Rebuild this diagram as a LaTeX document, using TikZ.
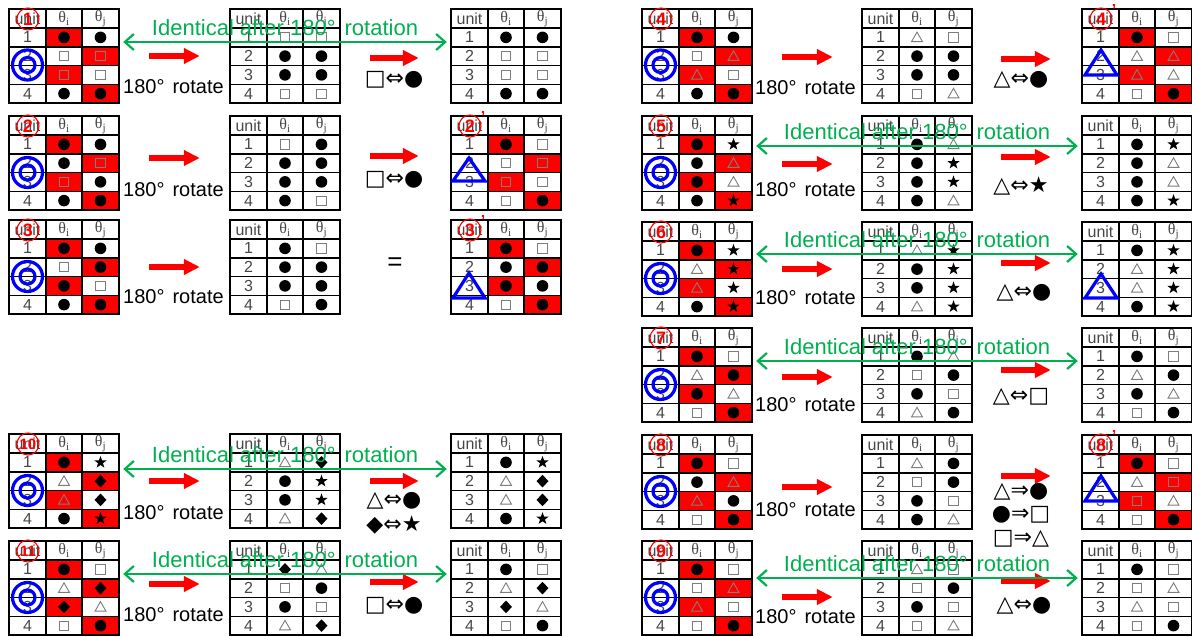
\documentclass[tikz,border=0pt]{standalone}
\usepackage{fontspec}
\setmainfont{Liberation Sans}
\newfontfamily\thfont{Liberation Serif}
\newfontfamily\symfont{DejaVu Sans}
\usetikzlibrary{arrows.meta,positioning}

\definecolor{cellred}{RGB}{255,0,0}
\definecolor{idgreen}{RGB}{0,176,80}
\definecolor{ringblue}{RGB}{0,0,255}
\definecolor{numgray}{RGB}{70,70,70}
\definecolor{symgray}{RGB}{125,125,125}

\tikzset{
  tblrule/.style={line width=1.5pt},
  tblframe/.style={inner sep=0pt, minimum width=110pt, minimum height=94pt},
  hdr/.style={inner sep=0pt, text=numgray, font=\fontsize{16}{16}\selectfont},
  num/.style={inner sep=0pt, text=numgray, font=\fontsize{16}{16}\selectfont},
  rot/.style={inner sep=0pt, anchor=west, font=\fontsize{20}{20}\selectfont},
  chg/.style={inner sep=0pt, font=\symfont\fontsize{22}{22}\selectfont},
  ident/.style={inner sep=0pt, text=idgreen, font=\fontsize{22}{22}\selectfont},
  idarrow/.style={idgreen, line width=2.2pt, <->, >={Straight Barb[length=9pt,width=16pt]}},
  redarrow/.style={cellred, line width=5.5pt, -{Triangle[length=16pt,width=15pt]}},
  caseno/.style={circle, draw=cellred, line width=1.1pt, text=cellred, inner sep=0pt,
    minimum size=22pt, font=\fontsize{18}{18}\selectfont\bfseries},
  prime/.style={inner sep=0pt, text=cellred, font=\fontsize{16}{16}\selectfont\bfseries},
  ring/.style={ringblue, line width=3.2pt},
  tri/.style={ringblue, line width=3.2pt, line join=miter},
}

% cell marks: filled dot, open square, open triangle, star, diamond
\newcommand{\cellC}[1]{\fill[shift={(#1)}] (0,0) circle (5.8);}
\newcommand{\cellS}[1]{\draw[symgray, line width=0.9pt, shift={(#1)}] (-4.6,-4.6) rectangle (4.6,4.6);}
\newcommand{\cellT}[1]{\draw[symgray, line width=0.9pt, shift={(#1)}] (-5.5,4.3) -- (0,-5.3) -- (5.5,4.3) -- cycle;}
\newcommand{\cellK}[1]{\fill[shift={(#1)}] (0,-6.5) -- (-1.53,-2.1) -- (-6.18,-2.01) -- (-2.47,0.8) -- (-3.82,5.26) -- (0,2.6) -- (3.82,5.26) -- (2.47,0.8) -- (6.18,-2.01) -- (1.53,-2.1) -- cycle;}
\newcommand{\cellD}[1]{\fill[shift={(#1)}] (0,-6.3) -- (6,0) -- (0,6.3) -- (-6,0) -- cycle;}

% #1 name, #2 #3 top left corner, #4 red diagonal (1/0), #5 marks of rows 1..4
\newcommand{\unittable}[5]{%
  \begin{scope}[shift={(#2,#3)}]
    \ifnum#4=1
      \fill[cellred] (37,19) rectangle (73,37.75);
      \fill[cellred] (73,37.75) rectangle (110,56.5);
      \fill[cellred] (37,56.5) rectangle (73,75.25);
      \fill[cellred] (73,75.25) rectangle (110,94);
    \fi
    \node[tblframe] (#1) at (55,47) {};
    \node[hdr] (#1-u) at (18.5,9.5) {unit};
    \node[hdr] (#1-i) at (55,9.5) {\thfont θ\textsubscript{i}};
    \node[hdr] (#1-j) at (91.5,9.5) {\thfont θ\textsubscript{j}};
    \foreach \ci/\cj [count=\rw] in {#5} {
      \pgfmathsetmacro\yc{19+(\rw-0.5)*18.75}
      \node[num] (#1-\rw) at (18.5,\yc) {\rw};
      \csname cell\ci\endcsname{55,\yc}
      \csname cell\cj\endcsname{91.5,\yc}
    }
    \draw[tblrule] (0,0) rectangle (110,94);
    \draw[tblrule] (37,0) -- (37,94) (73,0) -- (73,94);
    \foreach \yy in {19,37.75,56.5,75.25}
      \draw[tblrule] (0,\yy) -- (110,\yy);
  \end{scope}}

\begin{document}
\begin{tikzpicture}[x=1pt, y=-1pt]
  \useasboundingbox (0,0) rectangle (1192,637);

  % case 1
  \unittable{t1a}{9}{9}{1}{C/C,S/S,S/S,C/C}
  \unittable{t1b}{230}{9}{0}{S/S,C/C,C/C,S/S}
  \unittable{t1c}{451}{9}{0}{C/C,S/S,S/S,C/C}
  \node[caseno] (n1) at (28,19) {1};
  \draw[ring] (27.5,65) circle (15) (27.5,65) circle (7.5);
  \draw[redarrow] ([xshift=30pt]t1a.east) -- ([xshift=-30pt]t1b.west);
  \draw[redarrow] ([xshift=30pt,yshift=-2pt]t1b.east) -- ([xshift=-32pt,yshift=-2pt]t1c.west);
  \node[rot] (r1) at (123,87) {180°\hspace{8pt}rotate};
  \node[chg] (s1) at (394,80) {□⇔●};

  % case 2
  \unittable{t2a}{9}{116}{1}{C/C,C/S,S/C,C/C}
  \unittable{t2b}{230}{116}{0}{S/C,C/C,C/C,C/S}
  \unittable{t2c}{451}{116}{1}{C/S,S/S,S/S,S/C}
  \node[caseno] (n2) at (28,126) {2};
  \node[caseno] (n2p) at (470,126) {2};
  \node[prime] (p2) at (483,117) {’};
  \draw[ring] (27.5,172.5) circle (15) (27.5,172.5) circle (7.5);
  \draw[tri] (453,181) -- (469,158) -- (485,181) -- cycle;
  \draw[redarrow] ([xshift=30pt,yshift=5pt]t2a.east) -- ([xshift=-30pt,yshift=5pt]t2b.west);
  \draw[redarrow] ([xshift=30pt,yshift=7pt]t2b.east) -- ([xshift=-32pt,yshift=7pt]t2c.west);
  \node[rot] (r2) at (123,190) {180°\hspace{8pt}rotate};
  \node[chg] (s2) at (394,180) {□⇔●};

  % case 3
  \unittable{t3a}{9}{220}{1}{C/C,S/C,C/S,C/C}
  \unittable{t3b}{230}{220}{0}{C/S,C/C,C/C,S/C}
  \unittable{t3c}{451}{220}{1}{C/S,C/C,C/C,S/C}
  \node[caseno] (n3) at (28,230) {3};
  \node[caseno] (n3p) at (470,230) {3};
  \node[prime] (p3) at (483,221) {’};
  \draw[ring] (27.5,276.5) circle (15) (27.5,276.5) circle (7.5);
  \draw[tri] (453,298) -- (469,273) -- (485,298) -- cycle;
  \draw[redarrow] ([xshift=30pt]t3a.east) -- ([xshift=-30pt]t3b.west);
  \node[rot] (r3) at (123,297) {180°\hspace{8pt}rotate};
  \node[rot, anchor=center, font=\fontsize{26}{26}\selectfont] (e3) at (395,264) {=};

  % case 10
  \unittable{t10a}{9}{434}{1}{C/K,T/D,T/D,C/K}
  \unittable{t10b}{230}{434}{0}{T/D,C/K,C/K,T/D}
  \unittable{t10c}{451}{434}{0}{C/K,T/D,T/D,C/K}
  \node[caseno, font=\fontsize{15}{15}\selectfont\bfseries] (n10) at (28,444) {10};
  \draw[ring] (27.5,490.5) circle (15) (27.5,490.5) circle (7.5);
  \draw[redarrow] ([xshift=30pt]t10a.east) -- ([xshift=-30pt]t10b.west);
  \draw[redarrow] ([xshift=30pt]t10b.east) -- ([xshift=-32pt]t10c.west);
  \node[rot] (r10) at (123,513) {180°\hspace{8pt}rotate};
  \node[chg] (s10a) at (394,501) {△⇔●};
  \node[chg] (s10b) at (394,525) {◆⇔★};

  % case 11
  \unittable{t11a}{9}{541}{1}{C/S,T/D,D/T,S/C}
  \unittable{t11b}{230}{541}{0}{D/T,S/C,C/S,T/D}
  \unittable{t11c}{451}{541}{0}{C/S,T/D,D/T,S/C}
  \node[caseno, font=\fontsize{15}{15}\selectfont\bfseries] (n11) at (28,551) {11};
  \draw[ring] (27.5,597.5) circle (15) (27.5,597.5) circle (7.5);
  \draw[redarrow] ([xshift=30pt,yshift=4pt]t11a.east) -- ([xshift=-30pt,yshift=4pt]t11b.west);
  \draw[redarrow] ([xshift=30pt,yshift=6pt]t11b.east) -- ([xshift=-32pt,yshift=6pt]t11c.west);
  \node[rot] (r11) at (123,615) {180°\hspace{8pt}rotate};
  \node[chg] (s11) at (394,606) {□⇔●};

  % case 4
  \unittable{t4a}{642}{9}{1}{C/C,S/T,T/S,C/C}
  \unittable{t4b}{862}{9}{0}{T/S,C/C,C/C,S/T}
  \unittable{t4c}{1082}{9}{1}{C/S,T/T,T/T,S/C}
  \node[caseno] (n4) at (661,19) {4};
  \node[caseno] (n4p) at (1101,19) {4};
  \node[prime] (p4) at (1114,10) {’};
  \draw[ring] (660.5,65) circle (15) (660.5,65) circle (7.5);
  \draw[tri] (1085,75) -- (1101,50) -- (1117,75) -- cycle;
  \draw[redarrow] ([xshift=30pt,yshift=-1pt]t4a.east) -- ([xshift=-29pt,yshift=-1pt]t4b.west);
  \draw[redarrow] ([xshift=29pt,yshift=-3pt]t4b.east) -- ([xshift=-31pt,yshift=-3pt]t4c.west);
  \node[rot] (r4) at (755,88) {180°\hspace{8pt}rotate};
  \node[chg] (s4) at (1021,80) {△⇔●};

  % case 5
  \unittable{t5a}{642}{116}{1}{C/K,C/T,C/T,C/K}
  \unittable{t5b}{862}{116}{0}{C/T,C/K,C/K,C/T}
  \unittable{t5c}{1082}{116}{0}{C/K,C/T,C/T,C/K}
  \node[caseno] (n5) at (661,126) {5};
  \draw[ring] (660.5,172.5) circle (15) (660.5,172.5) circle (7.5);
  \draw[redarrow] ([xshift=30pt,yshift=-1pt]t5a.east) -- ([xshift=-29pt,yshift=-1pt]t5b.west);
  \draw[redarrow] ([xshift=29pt,yshift=6pt]t5b.east) -- ([xshift=-31pt,yshift=6pt]t5c.west);
  \node[rot] (r5) at (755,190) {180°\hspace{8pt}rotate};
  \node[chg] (s5) at (1021,186) {△⇔★};

  % case 6
  \unittable{t6a}{642}{222}{1}{C/K,T/K,T/K,C/K}
  \unittable{t6b}{862}{222}{0}{T/K,C/K,C/K,T/K}
  \unittable{t6c}{1082}{222}{0}{C/K,T/K,T/K,C/K}
  \node[caseno] (n6) at (661,232) {6};
  \draw[ring] (660.5,278.5) circle (15) (660.5,278.5) circle (7.5);
  \draw[tri] (1085,298) -- (1101,274) -- (1117,298) -- cycle;
  \draw[redarrow] ([xshift=30pt]t6a.east) -- ([xshift=-29pt]t6b.west);
  \draw[redarrow] ([xshift=29pt,yshift=6pt]t6b.east) -- ([xshift=-31pt,yshift=6pt]t6c.west);
  \node[rot] (r6) at (755,298) {180°\hspace{8pt}rotate};
  \node[chg] (s6) at (1024,293) {△⇔●};

  % case 7
  \unittable{t7a}{642}{328}{1}{C/S,T/C,C/T,S/C}
  \unittable{t7b}{862}{328}{0}{C/T,S/C,C/S,T/C}
  \unittable{t7c}{1082}{328}{0}{C/S,T/C,C/T,S/C}
  \node[caseno] (n7) at (661,338) {7};
  \draw[ring] (660.5,384.5) circle (15) (660.5,384.5) circle (7.5);
  \draw[redarrow] ([xshift=30pt,yshift=-2pt]t7a.east) -- ([xshift=-29pt,yshift=-2pt]t7b.west);
  \draw[redarrow] ([xshift=29pt,yshift=5pt]t7b.east) -- ([xshift=-31pt,yshift=5pt]t7c.west);
  \node[rot] (r7) at (755,405) {180°\hspace{8pt}rotate};
  \node[chg] (s7) at (1021,397) {△⇔□};

  % case 8
  \unittable{t8a}{642}{435}{1}{C/S,C/T,T/C,S/C}
  \unittable{t8b}{862}{435}{0}{T/C,S/C,C/S,C/T}
  \unittable{t8c}{1082}{435}{1}{C/S,T/S,S/T,S/C}
  \node[caseno] (n8) at (661,445) {8};
  \node[caseno] (n8p) at (1101,445) {8};
  \node[prime] (p8) at (1114,436) {’};
  \draw[ring] (660.5,491.5) circle (15) (660.5,491.5) circle (7.5);
  \draw[tri] (1085,501) -- (1101,476) -- (1117,501) -- cycle;
  \draw[redarrow] ([xshift=30pt,yshift=-5pt]t8a.east) -- ([xshift=-29pt,yshift=-5pt]t8b.west);
  \draw[redarrow] ([xshift=29pt,yshift=6pt]t8b.east) -- ([xshift=-31pt,yshift=6pt]t8c.west);
  \node[rot] (r8) at (755,510) {180°\hspace{8pt}rotate};
  \node[chg] (s8a) at (1021,492) {△⇒●};
  \node[chg] (s8b) at (1021,515) {●⇒□};
  \node[chg] (s8c) at (1021,539) {□⇒△};

  % case 9
  \unittable{t9a}{642}{541}{1}{C/S,S/T,T/S,S/C}
  \unittable{t9b}{862}{541}{0}{T/S,S/C,C/S,S/T}
  \unittable{t9c}{1082}{541}{0}{C/S,S/T,T/S,S/C}
  \node[caseno] (n9) at (661,551) {9};
  \draw[ring] (660.5,597.5) circle (15) (660.5,597.5) circle (7.5);
  \draw[redarrow] ([xshift=30pt,yshift=-9pt]t9a.east) -- ([xshift=-29pt,yshift=-9pt]t9b.west);
  \draw[redarrow] ([xshift=29pt,yshift=7pt]t9b.east) -- ([xshift=-31pt,yshift=7pt]t9c.west);
  \node[rot] (r9) at (755,617) {180°\hspace{8pt}rotate};
  \node[chg] (s9) at (1024,606) {△⇔●};

  % identical pairs, drawn over the middle tables
  \draw[idarrow] ([xshift=4pt,yshift=14pt]t1a.east) -- ([xshift=-4pt,yshift=14pt]t1c.west)
    node[ident, midway, above=5pt] (g1) {Identical after 180°\hspace{9pt}rotation};
  \draw[idarrow] ([xshift=4pt,yshift=12pt]t10a.east) -- ([xshift=-4pt,yshift=12pt]t10c.west)
    node[ident, midway, above=5pt] (g10) {Identical after 180°\hspace{9pt}rotation};
  \draw[idarrow] ([xshift=4pt,yshift=14pt]t11a.east) -- ([xshift=-4pt,yshift=14pt]t11c.west)
    node[ident, midway, above=5pt] (g11) {Identical after 180°\hspace{9pt}rotation};
  \draw[idarrow] ([xshift=4pt,yshift=17pt]t5a.east) -- ([xshift=-4pt,yshift=17pt]t5c.west)
    node[ident, midway, above=5pt] (g5) {Identical after 180°\hspace{9pt}rotation};
  \draw[idarrow] ([xshift=4pt,yshift=15pt]t6a.east) -- ([xshift=-4pt,yshift=15pt]t6c.west)
    node[ident, midway, above=5pt] (g6) {Identical after 180°\hspace{9pt}rotation};
  \draw[idarrow] ([xshift=4pt,yshift=14pt]t7a.east) -- ([xshift=-4pt,yshift=14pt]t7c.west)
    node[ident, midway, above=5pt] (g7) {Identical after 180°\hspace{9pt}rotation};
  \draw[idarrow] ([xshift=4pt,yshift=10pt]t9a.east) -- ([xshift=-4pt,yshift=10pt]t9c.west)
    node[ident, midway, above=5pt] (g9) {Identical after 180°\hspace{9pt}rotation};
\end{tikzpicture}
\end{document}
